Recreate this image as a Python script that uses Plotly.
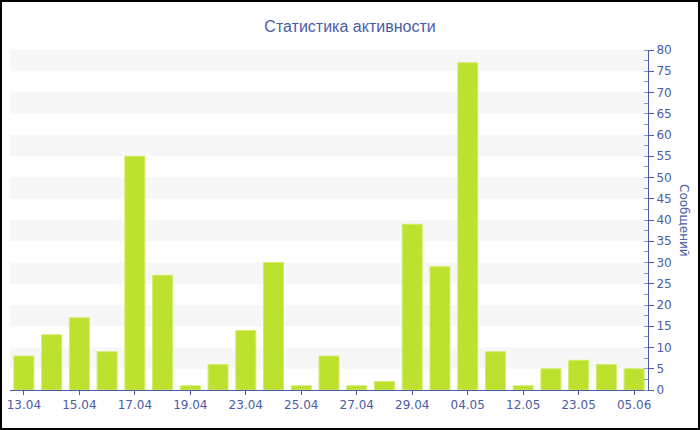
import plotly.graph_objects as go

categories = ["13.04", "14.04", "15.04", "16.04", "17.04", "18.04", "19.04", "21.04",
              "23.04", "24.04", "25.04", "26.04", "27.04", "28.04", "29.04", "30.04",
              "04.05", "08.05", "12.05", "18.05", "23.05", "29.05", "05.06"]
messages = [8, 13, 17, 9, 55, 27, 1, 6, 14, 30, 1, 8, 1, 2, 39, 29, 77, 9, 1, 5, 7, 6, 5]
tick_labels = ["13.04", "15.04", "17.04", "19.04", "23.04", "25.04", "27.04", "29.04",
               "04.05", "12.05", "23.05", "05.06"]
band_starts = [5, 15, 25, 35, 45, 55, 65, 75]

TXT = "#4a5ca6"
W, H = 700, 430
ML, MR, MT, MB = 10, 52, 50, 40
PW, PH = W - ML - MR, H - MT - MB

fig = go.Figure()
fig.add_trace(go.Bar(
    x=categories, y=messages,
    marker=dict(color="#bde12f", line=dict(color="#d2ec6a", width=1)),
    hovertemplate="%{x}: %{y}<extra></extra>",
))

shapes = []
for b in band_starts:
    shapes.append(dict(type="rect", xref="paper", yref="y", x0=0, x1=1, y0=b, y1=b + 5,
                       fillcolor="#f7f7f7", line=dict(width=0), layer="below"))
shapes.append(dict(type="rect", xref="paper", yref="paper",
                   x0=(-ML + 1) / PW, x1=1 + (MR - 1) / PW,
                   y0=(-MB + 1) / PH, y1=1 + (MT - 1) / PH,
                   line=dict(color="black", width=2), fillcolor="rgba(0,0,0,0)"))

fig.update_layout(
    width=W, height=H,
    margin=dict(l=ML, r=MR, t=MT, b=MB, autoexpand=False),
    paper_bgcolor="white", plot_bgcolor="white",
    font=dict(family="DejaVu Sans", color=TXT, size=12),
    title=dict(text="Статистика активности", x=0.5, xanchor="center", y=1 - 26 / H,
               yanchor="middle",
               font=dict(family="Liberation Sans", size=16, color=TXT)),
    bargap=0.28,
    showlegend=False,
    shapes=shapes,
    xaxis=dict(type="category", range=[-0.5, len(categories) - 0.5],
               tickmode="array", tickvals=tick_labels, ticktext=tick_labels,
               showline=True, linecolor=TXT, linewidth=1, ticks="outside",
               ticklen=4, tickcolor=TXT, showgrid=False, tickfont=dict(size=12)),
    yaxis=dict(side="right", range=[0, 80], dtick=5, tick0=0, showgrid=False,
               zeroline=False, showline=True, linecolor=TXT, linewidth=1,
               ticks="outside", ticklen=5, tickcolor=TXT, tickfont=dict(size=12),
               minor=dict(dtick=2.5, ticks="inside", ticklen=4, tickcolor="#8a96c4",
                          showgrid=False)),
    annotations=[dict(text="Сообщений", xref="paper", yref="paper", x=1, y=0.5,
                      xshift=36, xanchor="center", yanchor="middle", textangle=90,
                      showarrow=False, font=dict(size=12, color=TXT))],
)

fig.write_html("out.html", config={"displayModeBar": False},
               post_script="document.body.style.margin='0';document.body.style.overflow='hidden';")
